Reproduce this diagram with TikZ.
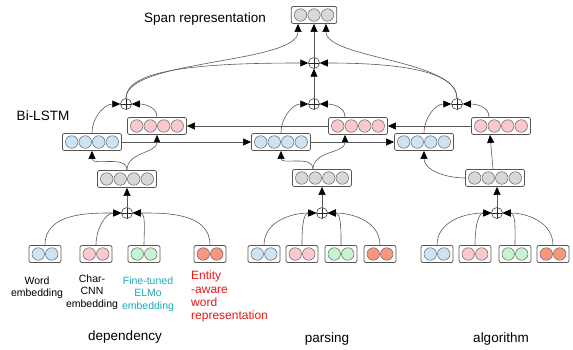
\documentclass[tikz,border=0pt]{standalone}
\usepackage{fontspec}
\setmainfont{Liberation Sans}
\usetikzlibrary{arrows.meta,calc}

\definecolor{cblue}{RGB}{204,228,244}
\definecolor{cpink}{RGB}{250,200,205}
\definecolor{cgray}{RGB}{216,216,216}
\definecolor{cgreen}{RGB}{198,244,208}
\definecolor{corange}{RGB}{250,150,125}
\definecolor{ccyan}{RGB}{26,168,180}
\definecolor{cred}{RGB}{240,20,20}
\definecolor{edge}{RGB}{85,85,85}

\tikzset{
  vecframe/.style={draw=edge, line width=0.8pt, rounded corners=2pt, fill=white,
    minimum height=17pt, inner sep=0pt},
  cell/.style={circle, draw=black!60, line width=0.5pt, minimum size=12.5pt, inner sep=0pt},
  oplus/.style={circle, draw=black!85, line width=0.5pt, minimum size=11pt, inner sep=0pt,
    path picture={\draw[black!85, line width=0.5pt]
      (path picture bounding box.north) -- (path picture bounding box.south)
      (path picture bounding box.west) -- (path picture bounding box.east);}},
  conn/.style={draw=black!65, line width=0.6pt,
    -{Triangle[length=8pt,width=7pt,color=black]}},
  big/.style={font=\fontsize{13.5}{16}\selectfont},
  small/.style={font=\fontsize{10.5}{12.5}\selectfont, align=center},
}

% vector of n cells in a framed box: name, position, n, fill colour
\newcommand\vecbox[4]{%
  \node[vecframe, minimum width={#3*13.5pt+5pt}] (#1) at (#2) {};
  \foreach \k in {1,...,#3}
    \node[cell, fill=#4] at ($(#1.center)+({(\k-(#3+1)/2)*13.5},0)$) {};
}

\begin{document}
\begin{tikzpicture}[x=1pt,y=1pt]
\useasboundingbox (0,0) rectangle (573,-350);

% labels
\node[big] (lspan) at (205,-19) {Span representation};
\node[big] (llstm) at (43,-116) {Bi-LSTM};

% span representation
\vecbox{S}{314,-15}{3}{cgray}
\node[oplus] (T) at (314,-63) {};

% Bi-LSTM combiners
\node[oplus] (PD) at (126,-104) {};
\node[oplus] (PP) at (314,-104) {};
\node[oplus] (PA) at (457,-104) {};

% forward / backward states
\vecbox{BD}{92,-142}{4}{cblue}
\vecbox{BP}{281,-142}{4}{cblue}
\vecbox{BA}{424,-142}{4}{cblue}
\vecbox{RD}{157,-126}{4}{cpink}
\vecbox{RP}{358,-126}{4}{cpink}
\vecbox{RA}{501,-126}{4}{cpink}

% word representations
\vecbox{GD}{127,-179}{4}{cgray}
\vecbox{GP}{322,-178}{4}{cgray}
\vecbox{GA}{495,-178}{4}{cgray}

% embedding combiners
\node[oplus] (QD) at (127,-213) {};
\node[oplus] (QP) at (322,-213) {};
\node[oplus] (QA) at (497,-213) {};

% embeddings
\vecbox{D1}{45,-254}{2}{cblue}
\vecbox{D2}{96,-254}{2}{cpink}
\vecbox{D3}{144,-254}{2}{cgreen}
\vecbox{D4}{210,-254}{2}{corange}
\vecbox{P1}{264,-254}{2}{cblue}
\vecbox{P2}{302,-254}{2}{cpink}
\vecbox{P3}{341,-254}{2}{cgreen}
\vecbox{P4}{380,-254}{2}{corange}
\vecbox{A1}{437,-254}{2}{cblue}
\vecbox{A2}{475,-254}{2}{cpink}
\vecbox{A3}{515,-254}{2}{cgreen}
\vecbox{A4}{553,-254}{2}{corange}

% embeddings -> combiners
\foreach \w in {D,P,A}{
  \draw[conn] (\w1.north) to[out=90,in=180] (Q\w.west);
  \draw[conn] (\w2.north) to[out=90,in=180] (Q\w.west);
  \draw[conn] (\w3.north) to[out=90,in=0] (Q\w.east);
  \draw[conn] (\w4.north) to[out=90,in=0] (Q\w.east);
}
\draw[conn] (QD.north) -- (QD.north |- GD.south);
\draw[conn] (QP.north) -- (QP.north |- GP.south);
\draw[conn] (QA.north) -- (QA.north |- GA.south);

% word representations -> Bi-LSTM
\draw[conn] (GD.north) to[out=90,in=-90] (BD.south);
\draw[conn] (GD.north) to[out=90,in=-90] (RD.south);
\draw[conn] ($(GP.north)+(-9,0)$) to[out=90,in=-90] (BP.south);
\draw[conn] ($(GP.north)+(-9,0)$) to[out=90,in=-90] ($(RP.south)+(-13,0)$);
\draw[conn] (GA.west) to[out=180,in=-90] (BA.south);
\draw[conn] ($(GA.north)+(-2,0)$) -- ($(RA.south)+(-11,0)$);

% recurrent links
\draw[conn] (BD.east) -- (BP.west);
\draw[conn] (BP.east) -- (BA.west);
\draw[conn] (RP.west) -- (RD.east);
\draw[conn] (RA.west) -- (RP.east);

% states -> combiners
\draw[conn] (BD.north) to[out=90,in=180] (PD.west);
\draw[conn] (RD.north) to[out=90,in=0] (PD.east);
\draw[conn] (BP.north) to[out=90,in=180] (PP.west);
\draw[conn] ($(RP.north)+(-13,0)$) to[out=90,in=0] (PP.east);
\draw[conn] (BA.north) to[out=90,in=180] (PA.west);
\draw[conn] ($(RA.north)+(-12,0)$) to[out=90,in=0] (PA.east);

% span representation
\draw[conn] (PP.north) -- (T.south);
\draw[conn] (T.north) -- (S.south);
\draw[conn] (PD.north) .. controls +(0,29) and +(-108,0) .. (T.west);
\draw[conn] (PD.north) .. controls +(0,39) and +(0,-40) .. ($(S.south)+(-16,0)$);
\draw[conn] (PA.north) .. controls +(0,29) and +(72,0) .. (T.east);
\draw[conn] (PA.north) .. controls +(0,39) and +(0,-35) .. ($(S.south)+(12,0)$);

% embedding names
\node[small, anchor=north] (t1) at (37,-273) {Word\\embedding};
\node[small, anchor=north] (t2) at (92,-271) {Char-\\CNN\\embedding};
\node[small, anchor=north, text=ccyan] (t3) at (148,-273) {Fine-tuned\\ELMo\\embedding};
\node[anchor=north west, inner sep=0pt, align=left, text=cred,
      font=\fontsize{12}{13.3}\selectfont] (t4) at (191,-271)
      {Entity\\-aware\\word\\representation};

% words
\node[big] (w1) at (125,-337) {dependency};
\node[big] (w2) at (327,-339) {parsing};
\node[big] (w3) at (501,-339) {algorithm};
\end{tikzpicture}
\end{document}
